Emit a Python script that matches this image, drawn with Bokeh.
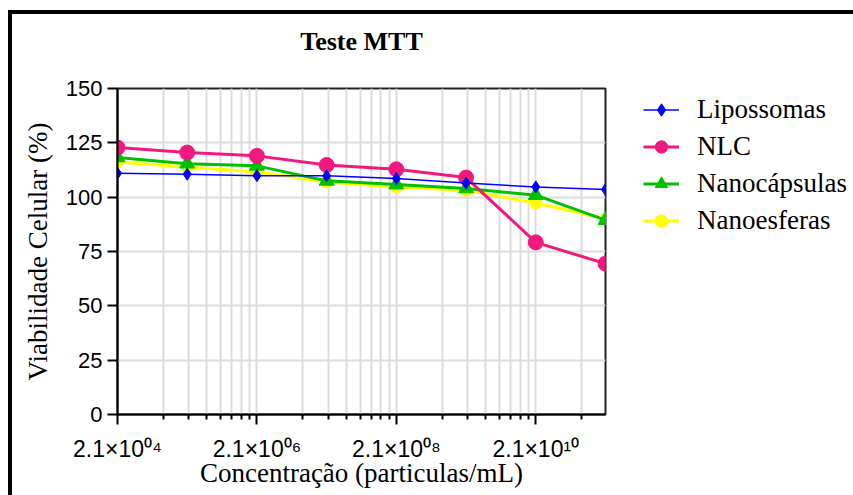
from bokeh.plotting import figure
from bokeh.layouts import row
from bokeh.models import FixedTicker, Legend, LegendItem, Range1d, Title
from bokeh.embed import file_html
from bokeh.resources import INLINE

# ---- data ----
concentration = [2.1e4, 2.1e5, 2.1e6, 2.1e7, 2.1e8, 2.1e9, 2.1e10, 2.1e11]
lipossomas = [111.0, 110.6, 109.9, 109.8, 108.6, 106.5, 104.7, 103.5]
nlc = [122.8, 120.5, 119.0, 114.8, 112.8, 109.0, 79.2, 69.4]
nanocapsulas = [118.3, 115.4, 114.4, 107.5, 105.8, 104.0, 100.9, 89.4]
nanoesferas = [116.2, 113.9, 111.6, 107.0, 104.7, 103.2, 97.3, 90.1]

series_names = ["Lipossomas", "NLC", "Nanocápsulas", "Nanoesferas"]
x_major_ticks = [2.1e4, 2.1e6, 2.1e8, 2.1e10]
x_tick_labels = ["2.1×10⁰⁴", "2.1×10⁰⁶", "2.1×10⁰⁸", "2.1×10¹⁰"]
y_ticks = [0, 25, 50, 75, 100, 125, 150]

H = 481
p = figure(width=603, height=H, x_axis_type="log",
           x_range=Range1d(2.1e4, 2.1e11), y_range=Range1d(0, 150),
           output_backend="svg", toolbar_location=None,
           min_border_left=105, min_border_right=10,
           min_border_top=74, min_border_bottom=81,
           background_fill_color="white", border_fill_color="white")
p.title.text = ""
p.title.visible = False

minor = []
for m in x_major_ticks:
    for k in range(1, 8):
        minor.append(m * (1 + k * 9 / 8) ** 2)
p.xaxis.ticker = FixedTicker(ticks=x_major_ticks, minor_ticks=minor)
p.xaxis.major_label_overrides = {t: lab for t, lab in zip(x_major_ticks, x_tick_labels)}
p.yaxis.ticker = FixedTicker(ticks=y_ticks)

# spacer (closest to frame) then the visible title
p.add_layout(Title(text=" ", text_font_size="14px"), "above")
p.add_layout(Title(text="Teste MTT", align="center", text_font="Liberation Serif",
                   text_font_size="26px", text_font_style="bold", text_color="black"), "above")

for ax in (p.xaxis[0], p.yaxis[0]):
    ax.axis_line_color = "black"
    ax.axis_line_width = 2
    ax.major_tick_line_color = "black"
    ax.major_tick_line_width = 2
    ax.major_tick_in = 0
    ax.major_tick_out = 10
    ax.minor_tick_line_color = "black"
    ax.minor_tick_line_width = 2
    ax.minor_tick_in = 0
    ax.minor_tick_out = 5
    ax.major_label_text_font = "Liberation Sans"
    ax.major_label_text_font_size = "22px"
    ax.major_label_text_color = "black"
    ax.axis_label_text_font = "Liberation Serif"
    ax.axis_label_text_font_size = "27px"
    ax.axis_label_text_font_style = "normal"
    ax.axis_label_text_color = "black"
p.xaxis.major_label_text_font_size = "23px"
p.yaxis.minor_tick_line_color = None
p.yaxis.major_label_standoff = 5
p.xaxis.major_label_standoff = 11
p.xaxis.axis_label = "Concentração (particulas/mL)"
p.yaxis.axis_label = "Viabilidade Celular (%)"
p.xaxis.axis_label_standoff = -7
p.yaxis.axis_label_standoff = 10

grid_col = "#dcdcdc"
p.xgrid.grid_line_color = grid_col
p.xgrid.grid_line_width = 2
p.xgrid.minor_grid_line_color = grid_col
p.xgrid.minor_grid_line_width = 2
p.ygrid.grid_line_color = grid_col
p.ygrid.grid_line_width = 2

p.outline_line_color = "#222222"
p.outline_line_width = 2

yel = "#ffff00"
grn = "#00c000"
pnk = "#f0197d"
blu = "#0000ff"

styles = {
    "Lipossomas": dict(color=blu, lw=1.5, marker="diamond", size=12),
    "NLC": dict(color=pnk, lw=3, marker="circle", size=15),
    "Nanocápsulas": dict(color=grn, lw=3, marker="triangle", size=15),
    "Nanoesferas": dict(color=yel, lw=3, marker="circle", size=12),
}
values = {"Lipossomas": lipossomas, "NLC": nlc,
          "Nanocápsulas": nanocapsulas, "Nanoesferas": nanoesferas}

# draw bottom-to-top: Nanoesferas, Nanocápsulas, NLC, Lipossomas
for name in reversed(series_names):
    st = styles[name]
    p.line(concentration, values[name], line_color=st["color"], line_width=st["lw"])
    p.scatter(concentration, values[name], marker=st["marker"], size=st["size"],
              fill_color=st["color"], line_color=st["color"])

# legend panel (separate canvas so the legend is not clipped)
q = figure(width=238, height=H, x_range=Range1d(0, 1), y_range=Range1d(0, 1),
           output_backend="svg", toolbar_location=None,
           x_axis_location=None, y_axis_location=None,
           min_border=0, outline_line_color=None,
           background_fill_color="white", border_fill_color="white")
q.title.visible = False
q.grid.visible = False
items = []
for name in series_names:
    st = styles[name]
    lr = q.line([5, 6], [5, 6], line_color=st["color"], line_width=st["lw"])
    sr = q.scatter([5], [5], marker=st["marker"], size=st["size"],
                   fill_color=st["color"], line_color=st["color"])
    items.append(LegendItem(label=name, renderers=[lr, sr]))

legend = Legend(items=items, location=(28, 178))
legend.label_text_font = "Liberation Serif"
legend.label_text_font_size = "27px"
legend.label_text_color = "black"
legend.glyph_width = 36
legend.glyph_height = 31
legend.label_height = 31
legend.label_standoff = 18
legend.spacing = 6
legend.padding = 0
legend.margin = 0
legend.border_line_color = None
legend.background_fill_alpha = 0
q.add_layout(legend, "center")

page = row(p, q, margin=(10, 0, 0, 8),
           styles={"border-top": "4px solid black", "border-left": "4px solid black"})

open("out.html", "w").write(file_html(page, INLINE))
